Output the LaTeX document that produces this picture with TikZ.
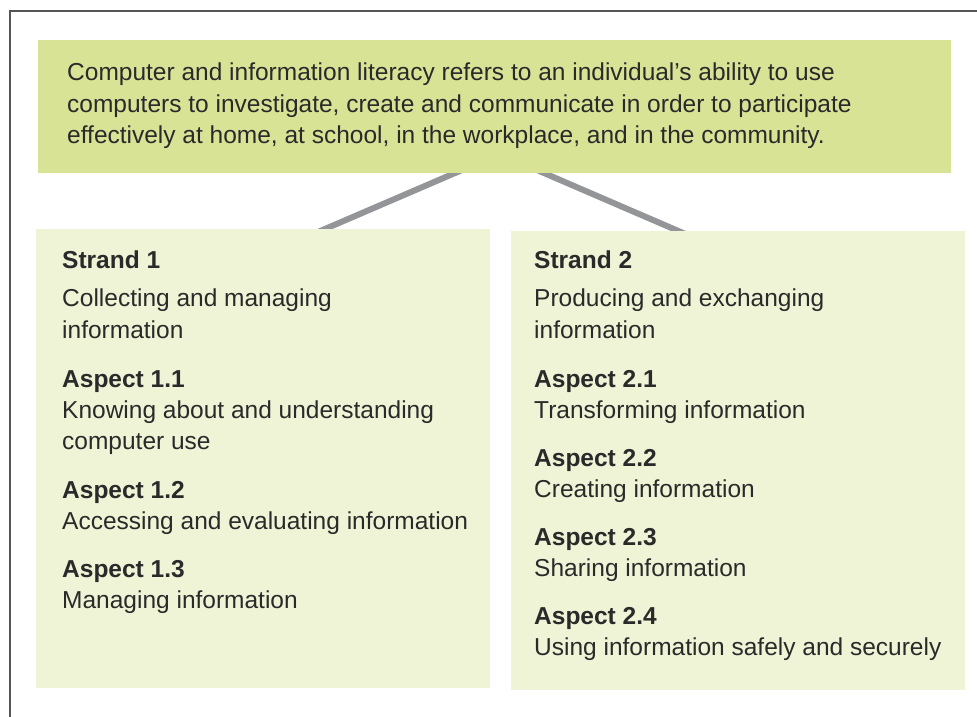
\documentclass[tikz,border=0pt]{standalone}
\usepackage{fontspec}
\setmainfont{Liberation Sans}
\definecolor{topgreen}{HTML}{D8E396}
\definecolor{palegreen}{HTML}{EFF4D6}
\definecolor{linegray}{HTML}{939598}
\definecolor{txt}{HTML}{2A2A2A}
\definecolor{framegray}{HTML}{555555}
\begin{document}
\begin{tikzpicture}[x=1pt,y=-1pt,
  box/.style={draw=none,inner sep=0pt,anchor=north west},
  topbox/.style={box,fill=topgreen},
  strandbox/.style={box,fill=palegreen},
  conn/.style={draw=linegray,line width=6pt},
  ln/.style={anchor=base west,inner sep=0pt,text=txt,font=\fontsize{24.5}{31}\selectfont},
  hd/.style={ln,font=\fontsize{24.5}{31}\selectfont\bfseries}]
\useasboundingbox (0,0) rectangle (977,717);
% frame
\draw[framegray,line width=1.2pt] (10,717) -- (10,11) -- (977,11);
% connectors (behind boxes)
\coordinate (c1a) at (469,167);
\coordinate (c1b) at (311,235);
\coordinate (c2a) at (530,167);
\coordinate (c2b) at (690,236);
\draw[conn] (c1a) -- (c1b);
\draw[conn] (c2a) -- (c2b);
% boxes
\node[topbox,minimum width=913pt,minimum height=133pt] (top) at (38,40) {};
\node[strandbox,minimum width=454pt,minimum height=459pt] (s1) at (36,229) {};
\node[strandbox,minimum width=454pt,minimum height=459pt] (s2) at (511,231) {};
% top text
\node[ln] (t1) at (67,81) {Computer and information literacy refers to an individual’s ability to use};
\node[ln] (t2) at (67,112) {computers to investigate, create and communicate in order to participate};
\node[ln] (t3) at (67,143) {effectively at home, at school, in the workplace, and in the community.};
% strand 1
\node[hd] (a1) at (62,268) {Strand 1};
\node[ln] (a2) at (62,306) {Collecting and managing};
\node[ln] (a3) at (62,338) {information};
\node[hd] (a4) at (62,387) {Aspect 1.1};
\node[ln] (a5) at (62,418) {Knowing about and understanding};
\node[ln] (a6) at (62,449) {computer use};
\node[hd] (a7) at (62,498) {Aspect 1.2};
\node[ln] (a8) at (62,529) {Accessing and evaluating information};
\node[hd] (a9) at (62,577) {Aspect 1.3};
\node[ln] (a10) at (62,608) {Managing information};
% strand 2
\node[hd] (b1) at (534,268) {Strand 2};
\node[ln] (b2) at (534,306) {Producing and exchanging};
\node[ln] (b3) at (534,338) {information};
\node[hd] (b4) at (534,387) {Aspect 2.1};
\node[ln] (b5) at (534,418) {Transforming information};
\node[hd] (b6) at (534,466) {Aspect 2.2};
\node[ln] (b7) at (534,497) {Creating information};
\node[hd] (b8) at (534,545) {Aspect 2.3};
\node[ln] (b9) at (534,576) {Sharing information};
\node[hd] (b10) at (534,624) {Aspect 2.4};
\node[ln] (b11) at (534,655) {Using information safely and securely};
\end{tikzpicture}
\end{document}
